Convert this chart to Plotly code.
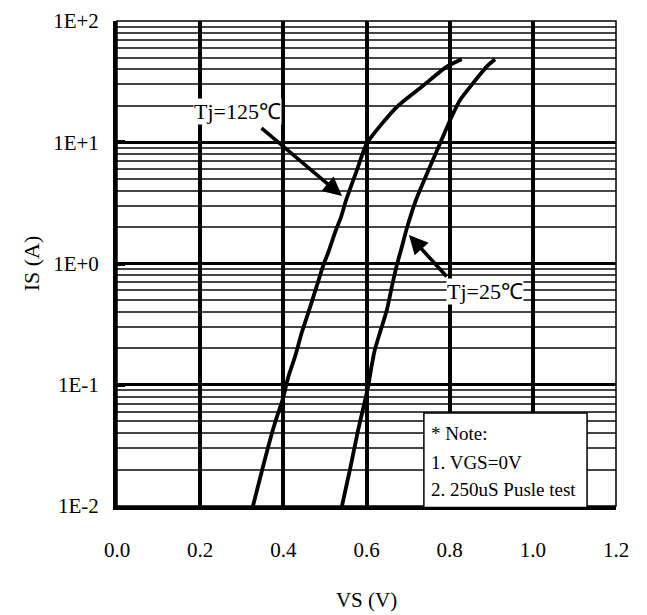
import plotly.graph_objects as go

# Source-drain diode forward characteristic: IS vs VS, two junction temperatures
vs_25 = [0.541, 0.560, 0.580, 0.604, 0.612, 0.620, 0.632, 0.649, 0.661, 0.672,
         0.683, 0.697, 0.719, 0.777, 0.805, 0.825, 0.856, 0.889, 0.909]
is_25 = [0.010, 0.0198, 0.0424, 0.0964, 0.141, 0.194, 0.267, 0.413, 0.644, 0.942,
         1.29, 1.95, 3.34, 9.8, 16.3, 22.3, 30.6, 42.0, 48.3]

vs_125 = [0.327, 0.349, 0.368, 0.382, 0.398, 0.412, 0.428, 0.444, 0.462, 0.480,
          0.495, 0.510, 0.524, 0.539, 0.551, 0.577, 0.601, 0.673, 0.733, 0.793, 0.829]
is_125 = [0.010, 0.0198, 0.035, 0.0512, 0.0748, 0.116, 0.170, 0.267, 0.413, 0.644,
          0.942, 1.29, 1.79, 2.43, 3.34, 5.9, 9.8, 19.6, 28.7, 42.0, 48.3]

x_ticks = [0.0, 0.2, 0.4, 0.6, 0.8, 1.0, 1.2]
x_tick_text = ["0.0", "0.2", "0.4", "0.6", "0.8", "1.0", "1.2"]
y_ticks = [0.01, 0.1, 1, 10, 100]
y_tick_text = ["1E-2", "1E-1", "1E+0", "1E+1", "1E+2"]

note_lines = ["* Note:", "1. VGS=0V", "2. 250uS Pusle test"]

FONT = "Liberation Serif, Times New Roman, serif"

fig = go.Figure()
for xs, ys in ((vs_125, is_125), (vs_25, is_25)):
    fig.add_trace(go.Scatter(
        x=xs, y=ys, mode="lines",
        line=dict(color="black", width=3.8, shape="spline", smoothing=0.6),
        showlegend=False, hoverinfo="skip",
    ))

fig.update_layout(
    width=647, height=615,
    margin=dict(l=117, r=31, t=21, b=109),
    paper_bgcolor="white", plot_bgcolor="white",
    font=dict(family=FONT, size=21, color="black"),
    showlegend=False,
)

fig.update_xaxes(
    range=[0, 1.2], tickvals=x_ticks, ticktext=x_tick_text,
    showgrid=True, gridcolor="black", gridwidth=3.5,
    showline=True, linecolor="black", linewidth=4,
    ticks="", ticklabelstandoff=22, zeroline=False, automargin=False,
    title=dict(text="VS (V)", standoff=32, font=dict(size=21)),
)
fig.update_yaxes(
    type="log", range=[-2, 2], tickvals=y_ticks, ticktext=y_tick_text,
    showgrid=True, gridcolor="black", gridwidth=3,
    showline=True, linecolor="black", linewidth=4,
    ticks="inside", ticklen=8, tickwidth=4, tickcolor="black",
    ticklabelstandoff=10, zeroline=False, automargin=False,
    minor=dict(dtick="D1", showgrid=True, gridcolor="#454545", gridwidth=1.6, ticks=""),
    title=dict(text="IS (A)", standoff=8, font=dict(size=22)),
)

# thin frame on the top and right edges
fig.add_shape(type="rect", xref="paper", yref="paper", x0=0, y0=0, x1=1, y1=1,
              line=dict(color="black", width=1.5), layer="above")

# temperature labels (on white) with pointer arrows
fig.add_annotation(x=0.289, y=1.25, xref="x", yref="y", text="Tj=125℃",
                   showarrow=False, font=dict(size=22), bgcolor="white", borderpad=0)
fig.add_annotation(x=0.541, y=0.557, ax=0.344, ay=1.126, xref="x", yref="y",
                   axref="x", ayref="y", text="", showarrow=True,
                   arrowhead=2, arrowsize=1.05, arrowwidth=3.6, arrowcolor="black")
fig.add_annotation(x=0.885, y=-0.235, xref="x", yref="y", text="Tj=25℃",
                   showarrow=False, font=dict(size=22), bgcolor="white", borderpad=0)
fig.add_annotation(x=0.702, y=0.235, ax=0.796, ay=-0.120, xref="x", yref="y",
                   axref="x", ayref="y", text="", showarrow=True,
                   arrowhead=2, arrowsize=1.05, arrowwidth=3.6, arrowcolor="black")

# test-condition note box
fig.add_shape(type="rect", xref="paper", yref="paper", x0=0.615, y0=-0.003,
              x1=0.942, y1=0.192, fillcolor="white",
              line=dict(color="black", width=1.5), layer="above")
for line, yp in zip(note_lines, [0.1505, 0.0907, 0.033]):
    fig.add_annotation(x=0.625, y=yp, xref="paper", yref="paper", text=line,
                       showarrow=False, xanchor="left", yanchor="middle",
                       font=dict(size=19))

fig.write_html("out.html")
